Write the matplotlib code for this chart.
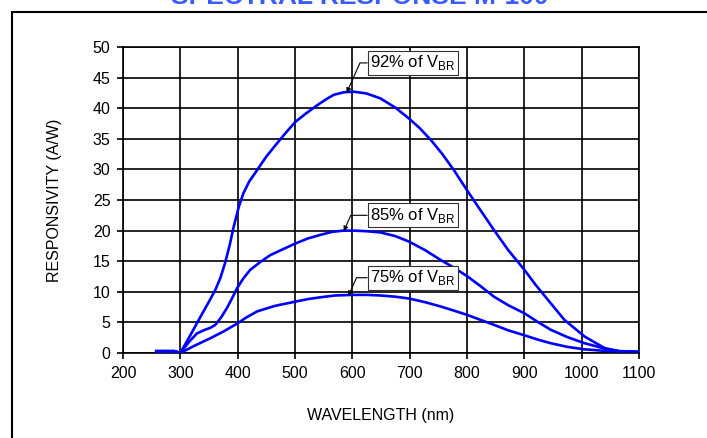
import matplotlib.pyplot as plt
from matplotlib.patches import Rectangle

plt.rcParams.update({'font.family': 'Liberation Sans', 'font.size': 11.5,
                     'mathtext.fontset': 'custom', 'mathtext.rm': 'Liberation Sans'})

# (wavelength in nm, responsivity in A/W)
wl_92 = [258, 290, 300, 318, 335, 350, 361, 370, 378, 386, 393, 402, 410, 420, 434, 450, 469, 485,
         501, 520, 539, 555, 568, 585, 602, 625, 649, 675, 699, 718, 737, 757, 777, 800, 823, 847,
         872, 900, 920, 941, 970, 1005, 1040, 1065]
r_92 = [0.3, 0.3, 0.0, 3.0, 5.9, 8.4, 10.3, 12.3, 14.7, 17.6, 20.6, 23.9, 26.1, 28.0, 29.9, 32.1, 34.3, 36.1,
        37.8, 39.2, 40.5, 41.5, 42.2, 42.6, 42.7, 42.4, 41.6, 40.1, 38.3, 36.7, 34.8, 32.5, 29.9, 26.6, 23.4, 20.1,
        16.8, 13.6, 11.1, 8.7, 5.4, 2.7, 0.8, 0.3]

wl_85 = [258, 290, 300, 315, 329, 343, 352, 361, 371, 381, 390, 399, 410, 422, 440, 457, 480, 501,
         522, 544, 565, 585, 602, 625, 649, 675, 699, 727, 754, 778, 801, 824, 847, 872, 900,
         923, 946, 975, 1005, 1045, 1065]
r_85 = [0.3, 0.3, 0.0, 1.8, 3.2, 3.8, 4.1, 4.6, 5.8, 7.3, 8.9, 10.6, 12.2, 13.6, 14.9, 16.0, 17.0, 17.9,
        18.7, 19.3, 19.8, 20.0, 20.0, 19.9, 19.7, 19.1, 18.2, 16.8, 15.2, 13.9, 12.5, 10.9, 9.2, 7.8, 6.5,
        5.1, 3.8, 2.6, 1.6, 0.6, 0.3]

wl_75 = [258, 290, 300, 325, 352, 375, 399, 415, 434, 465, 501, 522, 544, 570, 602, 625, 649, 675,
         699, 727, 754, 778, 801, 824, 847, 872, 900, 923, 946, 975, 1005, 1040, 1065, 1100]
r_75 = [0.3, 0.3, 0.0, 1.2, 2.4, 3.5, 4.8, 5.8, 6.8, 7.7, 8.4, 8.8, 9.1, 9.4, 9.5, 9.5, 9.4, 9.2,
        8.9, 8.3, 7.6, 6.9, 6.2, 5.4, 4.6, 3.7, 2.9, 2.2, 1.6, 1.0, 0.6, 0.35, 0.3, 0.25]

labels = ['92% of V$_{\\mathregular{BR}}$', '85% of V$_{\\mathregular{BR}}$', '75% of V$_{\\mathregular{BR}}$']
label_tips = [(590, 42.5), (585, 19.9), (593, 9.3)]
label_pos = [(631, 47.4), (631, 22.5), (631, 12.3)]

fig = plt.figure(figsize=(7.07, 4.38), dpi=100)
ax = fig.add_axes([123/707, 1 - 353/438, 516/707, 306/438])

for wl, r in [(wl_92, r_92), (wl_85, r_85), (wl_75, r_75)]:
    ax.plot(wl, r, color='#0000ff', lw=1.9, zorder=3, solid_joinstyle='round')

ax.set_xlim(200, 1100)
ax.set_ylim(0, 50)
ax.set_xticks(range(200, 1101, 100))
ax.set_yticks(range(0, 51, 5))
ax.grid(True, color='black', lw=1.2)
for s in ax.spines.values():
    s.set_linewidth(1.2)
ax.tick_params(direction='out', length=4, width=1.2, pad=5, labelsize=11.5)

ax.set_xlabel('WAVELENGTH (nm)', fontsize=11.5)
ax.set_ylabel('RESPONSIVITY (A/W)', fontsize=11.5)
ax.xaxis.set_label_coords(0.5, -0.18)
ax.yaxis.set_label_coords(-0.118, 0.5)

for lab, tip, pos in zip(labels, label_tips, label_pos):
    ax.annotate(lab, xy=tip, xytext=pos, ha='left', va='center', fontsize=12, zorder=5,
                bbox=dict(boxstyle='square,pad=0.15', fc='white', ec='#333333', lw=0.8),
                arrowprops=dict(arrowstyle='-|>', color='black', lw=0.8, mutation_scale=7,
                                connectionstyle='angle,angleA=0,angleB=66,rad=0',
                                shrinkA=0, shrinkB=0))

# outer frame (extends beyond the right and bottom edges)
fig.add_artist(Rectangle((12/707, -0.1), 1.2, 1.1 - 12/438, transform=fig.transFigure,
                         fill=False, ec='black', lw=1.5))

fig.text(360/707, 1 - 4/438, 'SPECTRAL RESPONSE M-100', ha='center', va='baseline',
         fontsize=19, fontweight='bold', color='#3a5cff')

fig.savefig('out.png', dpi=100)
